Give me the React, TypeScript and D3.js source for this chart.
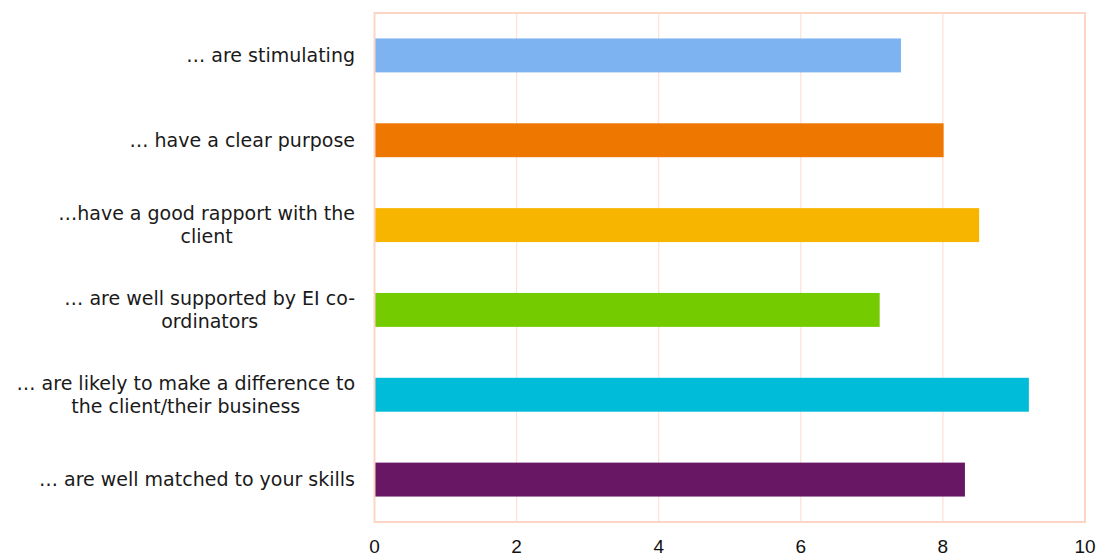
import React from "react";
import * as d3 from "d3";

const categories: string[][] = [
  ["… are stimulating"],
  ["… have a clear purpose"],
  ["…have a good rapport with the", "client"],
  ["… are well supported by EI co-", "ordinators"],
  ["… are likely to make a difference to", "the client/their business"],
  ["… are well matched to your skills"],
];
const values: number[] = [7.41, 8.01, 8.51, 7.11, 9.21, 8.31];
const colors: string[] = ["#7EB3F2", "#EE7700", "#F7B500", "#74CB00", "#00BCD9", "#671764"];
const ticks: number[] = [0, 2, 4, 6, 8, 10];

const labelFontFamily = "'DejaVu Sans', Verdana, sans-serif";
const labelFontSize = 19;

function measure(text: string): number {
  const c = document.createElement("canvas").getContext("2d");
  if (!c) return text.length * labelFontSize * 0.55;
  c.font = `${labelFontSize}px ${labelFontFamily}`;
  return c.measureText(text).width;
}

export default function App() {
  const W = 1102, H = 558;
  const left = 374.5, right = 1085, top = 13, bottom = 522;
  const x = d3.scaleLinear().domain([0, 10]).range([left, right]);
  const y = d3.scaleBand<number>().domain(d3.range(categories.length)).range([top, bottom]).paddingInner(0.6).paddingOuter(0.3);
  const labelRight = 355;
  return (
    <svg width={W} height={H} style={{ position: "absolute", left: 0, top: 0, background: "#fff" }}>
      {ticks.slice(1, -1).map((t) => (
        <line key={t} x1={x(t)} x2={x(t)} y1={top} y2={bottom} stroke="#FDE0D6" strokeWidth={1.2} />
      ))}
      {values.map((v, i) => (
        <rect key={i} x={x(0)} y={y(i)!} width={x(v) - x(0)} height={y.bandwidth()} fill={colors[i]} />
      ))}
      <rect x={left} y={top} width={right - left} height={bottom - top} fill="none" stroke="#FCD5C5" strokeWidth={2} />
      {categories.map((lines, i) => {
        const cy = y(i)! + y.bandwidth() / 2;
        const lh = 22.5;
        const start = cy - ((lines.length - 1) * lh) / 2;
        const maxW = Math.max(...lines.map(measure));
        const cx = labelRight - maxW / 2;
        return (
          <text key={i} fontFamily={labelFontFamily} fontSize={labelFontSize} fill="#1a1a1a" textAnchor="middle">
            {lines.map((l, j) => (
              <tspan key={j} x={cx} y={start + j * lh} dy="0.35em">{l}</tspan>
            ))}
          </text>
        );
      })}
      {ticks.map((t) => (
        <text key={t} x={x(t)} y={553} textAnchor="middle" fontFamily="'Liberation Sans', Arial, sans-serif" fontSize={19} fill="#111">{t}</text>
      ))}
    </svg>
  );
}
